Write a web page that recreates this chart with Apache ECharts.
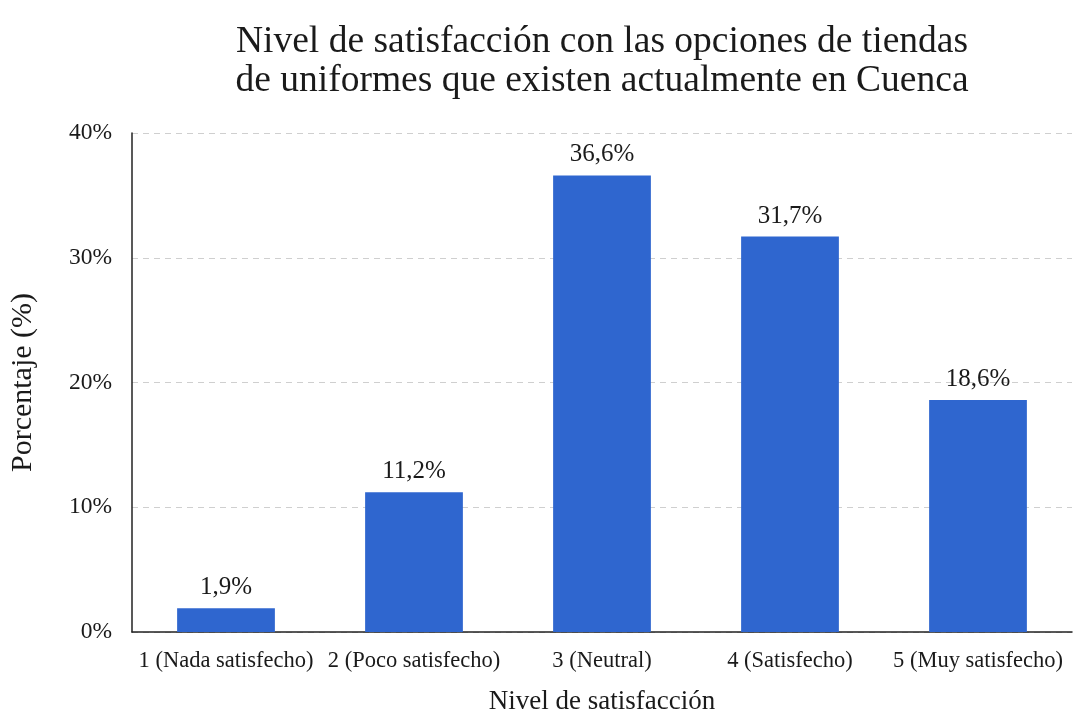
<!DOCTYPE html>
<html>
<head>
<meta charset="utf-8">
<script src="https://cdn.jsdelivr.net/npm/echarts@6/dist/echarts.min.js"></script>
<style>
  html, body { margin: 0; padding: 0; background: #fff; }
  #chart { width: 1083px; height: 713px; }
</style>
</head>
<body>
<div id="chart"></div>
<script>
// Satisfaction levels and the share of respondents for each
const categories = ['1 (Nada satisfecho)', '2 (Poco satisfecho)', '3 (Neutral)', '4 (Satisfecho)', '5 (Muy satisfecho)'];
const percentages = [1.9, 11.2, 36.6, 31.7, 18.6];
const yTicks = [0, 10, 20, 30, 40];

const serif = '"Liberation Serif", "DejaVu Serif", serif';
const fmt = v => v.toFixed(1).replace('.', ',') + '%';

const chart = echarts.init(document.getElementById('chart'));
chart.setOption({
  backgroundColor: '#ffffff',
  title: {
    text: 'Nivel de satisfacción con las opciones de tiendas\nde uniformes que existen actualmente en Cuenca',
    left: 597,
    textAlign: 'center',
    top: 18,
    textStyle: { fontFamily: serif, fontSize: 37.5, fontWeight: 'normal', color: '#1a1a1a', lineHeight: 39 }
  },
  grid: { left: 132, right: 11, top: 133, bottom: 81, containLabel: false, outerBoundsMode: 'none' },
  xAxis: {
    type: 'category',
    data: categories,
    name: 'Nivel de satisfacción',
    nameLocation: 'middle',
    nameGap: 56,
    nameTextStyle: { fontFamily: serif, fontSize: 27, color: '#1a1a1a' },
    axisLine: { lineStyle: { color: '#222', width: 1.5 } },
    axisTick: { show: false },
    axisLabel: { fontFamily: serif, fontSize: 22.5, color: '#1a1a1a', margin: 18, interval: 0 }
  },
  yAxis: {
    type: 'value',
    min: yTicks[0],
    max: yTicks[yTicks.length - 1],
    interval: 10,
    name: 'Porcentaje (%)',
    nameLocation: 'middle',
    nameGap: 94,
    nameTextStyle: { fontFamily: serif, fontSize: 30, color: '#1a1a1a' },
    axisLine: { show: true, lineStyle: { color: '#222', width: 1.5 } },
    axisTick: { show: false },
    axisLabel: { fontFamily: serif, fontSize: 23.5, color: '#1a1a1a', margin: 20, formatter: v => v + '%' },
    splitLine: { lineStyle: { color: '#cfcfcf', type: [6, 5], width: 1 } }
  },
  series: [{
    type: 'bar',
    data: percentages,
    barWidth: '52%',
    itemStyle: { color: '#2f66cf' },
    label: {
      show: true,
      position: 'top',
      distance: 8,
      fontFamily: serif,
      fontSize: 25,
      color: '#1a1a1a',
      formatter: p => fmt(p.value)
    }
  }]
});
</script>
</body>
</html>
